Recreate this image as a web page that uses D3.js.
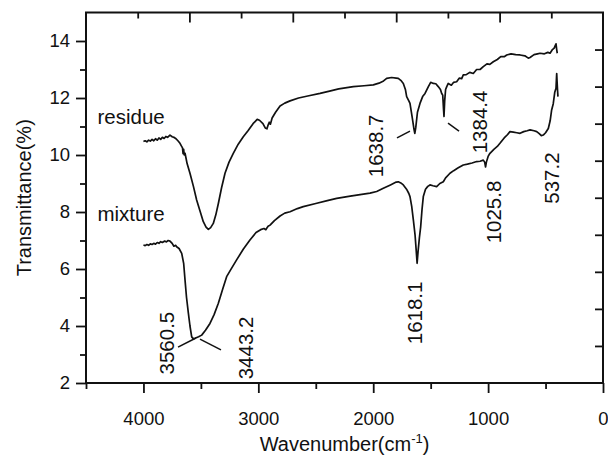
<!DOCTYPE html>
<html>
<head>
<meta charset="utf-8">
<script src="https://cdn.jsdelivr.net/npm/d3@7"></script>
<style>
  body { margin: 0; background: #fff; }
  svg text { font-family: "Liberation Sans", Arial, sans-serif; fill: #111; }
</style>
</head>
<body>
<svg id="chart" width="608" height="456"></svg>
<script>
// wavenumber (cm-1), transmittance (%)
const residue = [
  [4000,10.47],[3985,10.5],[3970,10.46],[3955,10.52],[3940,10.49],[3925,10.55],[3910,10.5],[3895,10.57],
  [3880,10.52],[3865,10.6],[3850,10.55],[3835,10.62],[3820,10.58],[3805,10.65],[3790,10.62],[3769,10.7],
  [3750,10.64],[3735,10.62],[3720,10.58],[3700,10.5],[3682,10.41],[3670,10.32],[3660,10.25],[3655,10.05],
  [3650,10.2],[3645,10.0],[3638,10.06],[3620,9.7],[3595,9.36],[3565,8.9],[3537,8.42],[3505,8.0],
  [3479,7.66],[3455,7.47],[3435,7.39],[3415,7.45],[3392,7.6],[3370,7.9],[3348,8.3],[3320,8.85],
  [3290,9.36],[3255,9.75],[3218,10.06],[3175,10.38],[3131,10.64],[3090,10.85],[3046,11.1],[3010,11.25],
  [2990,11.22],[2960,11.1],[2940,10.95],[2925,10.92],[2915,11.05],[2905,11.15],[2895,11.08],[2880,11.3],
  [2850,11.5],[2811,11.72],[2770,11.82],[2724,11.9],[2650,12.0],[2560,12.08],[2463,12.16],[2380,12.24],
  [2300,12.32],[2173,12.4],[2080,12.43],[1999,12.46],[1950,12.52],[1910,12.6],[1883,12.69],[1840,12.72],
  [1800,12.7],[1782,12.69],[1760,12.62],[1738,12.51],[1720,12.3],[1709,12.05],[1690,11.9],[1680,11.81],
  [1660,11.3],[1645,10.9],[1638,10.76],[1630,10.95],[1615,11.5],[1593,11.81],[1570,12.05],[1549,12.16],
  [1520,12.4],[1500,12.55],[1477,12.51],[1455,12.5],[1434,12.4],[1415,12.3],[1404,12.16],[1395,12.1],
  [1388,11.6],[1384,11.35],[1378,11.9],[1370,12.3],[1360,12.4],[1347,12.51],[1320,12.45],[1300,12.55],
  [1274,12.57],[1250,12.7],[1230,12.68],[1216,12.81],[1190,12.82],[1160,12.9],[1129,12.86],[1100,13.0],
  [1070,13.0],[1042,13.1],[1010,13.2],[985,13.18],[955,13.27],[920,13.35],[890,13.45],[860,13.45],
  [838,13.51],[800,13.55],[760,13.52],[722,13.51],[680,13.48],[650,13.4],[635,13.42],[600,13.52],
  [570,13.55],[548,13.57],[510,13.55],[480,13.6],[461,13.57],[440,13.7],[425,13.75],[415,13.85],
  [409,13.9],[403,13.7],[398,13.57]
];

const mixture = [
  [4000,6.84],[3985,6.82],[3970,6.86],[3955,6.83],[3940,6.88],[3925,6.86],[3910,6.9],[3895,6.87],
  [3880,6.93],[3865,6.9],[3850,6.96],[3835,6.93],[3815,6.98],[3800,6.95],[3785,7.0],[3769,6.98],
  [3750,6.9],[3735,6.8],[3720,6.83],[3711,6.78],[3690,6.72],[3667,6.55],[3650,6.2],[3638,5.61],
  [3625,5.0],[3609,4.45],[3595,4.0],[3580,3.62],[3565,3.55],[3551,3.57],[3520,3.62],[3493,3.68],
  [3460,3.85],[3421,4.09],[3385,4.4],[3348,4.8],[3310,5.3],[3276,5.73],[3240,5.98],[3189,6.32],
  [3130,6.7],[3073,7.02],[3020,7.28],[2980,7.38],[2950,7.42],[2935,7.38],[2927,7.43],[2915,7.5],
  [2898,7.54],[2860,7.7],[2811,7.86],[2770,7.96],[2724,8.01],[2660,8.12],[2609,8.19],[2500,8.3],
  [2400,8.4],[2318,8.48],[2200,8.56],[2100,8.62],[2028,8.66],[1970,8.72],[1912,8.83],[1850,8.95],
  [1800,9.05],[1782,9.06],[1760,9.02],[1738,8.95],[1710,8.8],[1690,8.65],[1680,8.54],[1665,8.2],
  [1650,7.7],[1636,7.2],[1625,6.6],[1618,6.2],[1610,6.6],[1598,7.1],[1587,7.48],[1575,8.1],
  [1564,8.54],[1545,8.8],[1525,8.9],[1506,8.95],[1480,8.92],[1448,8.89],[1420,9.0],[1390,9.06],
  [1370,9.2],[1332,9.36],[1300,9.45],[1260,9.55],[1216,9.65],[1180,9.68],[1140,9.72],[1100,9.77],
  [1070,9.78],[1042,9.82],[1030,9.75],[1022,9.58],[1015,9.75],[1000,9.95],[984,10.06],[950,10.2],
  [920,10.3],[897,10.41],[860,10.6],[830,10.72],[810,10.82],[780,10.8],[750,10.78],[722,10.76],
  [690,10.82],[660,10.85],[635,10.88],[600,10.85],[577,10.82],[555,10.75],[537,10.68],[520,10.7],
  [500,10.78],[476,10.93],[460,11.2],[447,11.58],[433,11.8],[420,12.2],[409,12.34],[405,12.7],
  [403,12.86],[400,12.6],[396,12.3],[392,12.05]
];

const xTicks = [4000, 3000, 2000, 1000, 0];
const xMinor = [4500, 3500, 2500, 1500, 500];
const yTicks = [2, 4, 6, 8, 10, 12, 14];
const yMinor = [3, 5, 7, 9, 11, 13];

// series names placed at [wavenumber, T]
const seriesNames = [
  {text: "residue", at: [4400, 11.1]},
  {text: "mixture", at: [4400, 7.7]}
];

// peak labels (rotated) at [wavenumber, T]
const peakLabels = [
  {text: "3560.5", at: [3795, 3.40]},
  {text: "3443.2", at: [3107, 3.23]},
  {text: "1638.7", at: [1976, 10.32]},
  {text: "1384.4", at: [1071, 11.16]},
  {text: "1618.1", at: [1636, 4.46]},
  {text: "1025.8", at: [949, 8.0]},
  {text: "537.2", at: [444, 9.19]}
];

// leader lines [[w1,T1],[w2,T2]]
const leaders = [
  [[3699, 3.26], [3543, 3.58]],
  [[3508, 3.54], [3325, 3.16]],
  [[1793, 10.60], [1680, 10.84]],
  [[1349, 11.12], [1253, 10.84]]
];

const svg = d3.select("#chart");
const margin = {top: 12.5, right: 5, bottom: 73, left: 86};
const W = 608, H = 456;

const x = d3.scaleLinear().domain([4500, 0]).range([margin.left, W - margin.right]);
const y = d3.scaleLinear().domain([2, 15]).range([H - margin.bottom, margin.top]);

// top and right frame ticks (10 divisions, no labels)
const xTop = d3.scaleLinear().domain([0, 10]).range([margin.left, W - margin.right]);
const yRight = d3.scaleLinear().domain([0, 10]).range([H - margin.bottom, margin.top]);

function styleAxis(g) {
  g.selectAll(".domain").remove();
  g.selectAll(".tick line").attr("stroke", "#111").attr("stroke-width", 1.8);
  g.selectAll(".tick text").attr("font-size", 18.5).attr("fill", "#111")
    .style("font-family", "'Liberation Sans', Arial, sans-serif");
}

// bottom axis
svg.append("g")
  .attr("transform", `translate(0,${H - margin.bottom})`)
  .call(d3.axisBottom(x).tickValues(xTicks).tickSize(10).tickPadding(19).tickFormat(d3.format("d")))
  .call(styleAxis);
svg.append("g")
  .attr("transform", `translate(0,${H - margin.bottom})`)
  .call(d3.axisBottom(x).tickValues(xMinor).tickSize(6).tickFormat(""))
  .call(styleAxis);

// left axis
svg.append("g")
  .attr("transform", `translate(${margin.left},0)`)
  .call(d3.axisLeft(y).tickValues(yTicks).tickSize(10).tickPadding(6).tickFormat(d3.format("d")))
  .call(styleAxis);
svg.append("g")
  .attr("transform", `translate(${margin.left},0)`)
  .call(d3.axisLeft(y).tickValues(yMinor).tickSize(6).tickFormat(""))
  .call(styleAxis);

// top axis, inward ticks alternating long/short
svg.append("g")
  .attr("transform", `translate(0,${margin.top})`)
  .call(d3.axisTop(xTop).tickValues([2, 4, 6, 8]).tickSize(-10).tickFormat(""))
  .call(styleAxis);
svg.append("g")
  .attr("transform", `translate(0,${margin.top})`)
  .call(d3.axisTop(xTop).tickValues([1, 3, 5, 7, 9]).tickSize(-6).tickFormat(""))
  .call(styleAxis);

// right axis, inward ticks
svg.append("g")
  .attr("transform", `translate(${W - margin.right},0)`)
  .call(d3.axisRight(yRight).tickValues(d3.range(1, 10)).tickSize(-8).tickFormat(""))
  .call(styleAxis);

// frame
svg.append("rect")
  .attr("x", margin.left).attr("y", margin.top)
  .attr("width", W - margin.left - margin.right)
  .attr("height", H - margin.top - margin.bottom)
  .attr("fill", "none").attr("stroke", "#111").attr("stroke-width", 2);

// spectra
const line = d3.line().x(d => x(d[0])).y(d => y(d[1]));
[residue, mixture].forEach(s => {
  svg.append("path")
    .datum(s)
    .attr("d", line)
    .attr("fill", "none")
    .attr("stroke", "#111")
    .attr("stroke-width", 1.7)
    .attr("stroke-linejoin", "round");
});

// series names
svg.selectAll(".sname").data(seriesNames).join("text")
  .attr("class", "sname")
  .attr("x", d => x(d.at[0]))
  .attr("y", d => y(d.at[1]))
  .attr("font-size", 20.5)
  .text(d => d.text);

// peak labels
svg.selectAll(".plabel").data(peakLabels).join("text")
  .attr("class", "plabel")
  .attr("transform", d => `translate(${x(d.at[0])},${y(d.at[1])}) rotate(-90)`)
  .attr("text-anchor", "middle")
  .attr("dy", "0.36em")
  .attr("font-size", 20.5)
  .text(d => d.text);

// leader lines
svg.selectAll(".leader").data(leaders).join("line")
  .attr("class", "leader")
  .attr("x1", d => x(d[0][0])).attr("y1", d => y(d[0][1]))
  .attr("x2", d => x(d[1][0])).attr("y2", d => y(d[1][1]))
  .attr("stroke", "#111").attr("stroke-width", 1.5);

// axis titles
const xt = svg.append("text")
  .attr("x", (margin.left + W - margin.right) / 2)
  .attr("y", 451)
  .attr("text-anchor", "middle")
  .attr("font-size", 20);
xt.append("tspan").text("Wavenumber(cm");
xt.append("tspan").attr("dy", -8).attr("font-size", 13).text("-1");
xt.append("tspan").attr("dy", 8).text(")");

svg.append("text")
  .attr("transform", `translate(31,${(margin.top + H - margin.bottom) / 2}) rotate(-90)`)
  .attr("text-anchor", "middle")
  .attr("font-size", 20)
  .text("Transmittance(%)");
</script>
</body>
</html>
